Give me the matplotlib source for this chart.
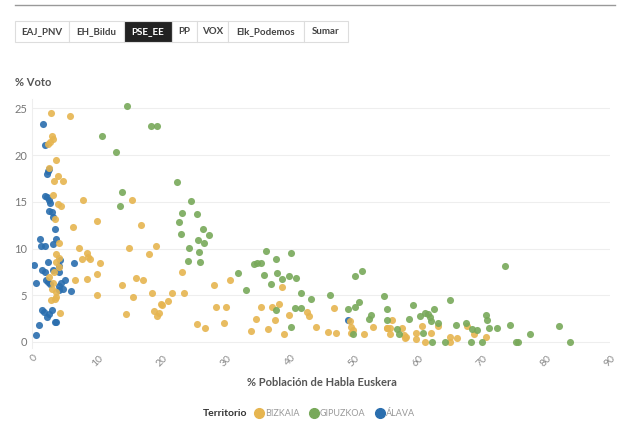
import matplotlib.pyplot as plt
from matplotlib.patches import Rectangle

plt.rcParams['font.family'] = ['Lato', 'DejaVu Sans']

# % poblacion de habla euskera (x) y % voto PSE_EE (y) por municipio
bizkaia_x = [2.6, 5.7, 2.9, 3.0, 2.5, 2.2, 3.4, 2.4, 3.8, 3.1, 4.5, 3.0, 3.7, 4.3, 3.3,
             7.6, 15.4, 6.05, 9.8, 16.8, 3.96, 7.1, 14.9, 19.0, 8.3, 3.5, 18.0, 7.45,
             8.5, 8.7, 3.96, 3.5, 3.96, 10.3, 9.8, 23.1, 2.4, 3.2, 6.4, 8.3, 15.9, 17.1,
             13.7, 2.8, 3.0, 3.4, 9.8, 15.5, 18.4, 21.5, 23.5, 21.0, 19.8, 18.75, 19.2,
             19.6, 20.05, 2.6, 3.3, 3.5, 14.4, 4.06, 25.4,
             28.1, 30.6, 28.4, 30.0, 26.7, 29.7, 33.9, 35.5, 34.7, 36.6, 37.2, 37.7,
             38.3, 38.8, 39.0, 39.9, 42.6, 43.0, 44.1, 46.0, 47.2, 46.9, 49.4, 49.6,
             49.8, 49.6, 51.5, 53.0, 55.2, 55.9, 55.7, 55.6, 57.8, 58.1, 55.1, 57.5,
             58.0, 59.7, 59.7, 60.6, 61.1, 62.1, 63.2, 65.0, 65.0, 66.1, 67.7, 68.75,
             70.6]
bizkaia_y = [24.5, 24.2, 22.0, 21.7, 21.4, 21.2, 19.5, 18.6, 17.75, 17.2, 17.2, 15.7,
             14.8, 14.5, 13.2, 15.15, 15.15, 12.3, 12.9, 12.5, 10.55, 10.1, 10.1, 10.3,
             9.55, 9.4, 9.4, 8.85, 9.05, 8.85, 8.95, 8.6, 8.05, 8.5, 7.25, 7.5, 7.0, 7.5,
             6.6, 6.7, 6.9, 6.6, 6.1, 5.7, 6.35, 5.3, 5.0, 4.8, 5.2, 5.2, 5.2, 4.4, 4.1,
             3.35, 2.8, 3.1, 3.95, 4.5, 4.65, 4.85, 3.0, 3.1, 1.9,
             6.1, 6.6, 3.7, 3.7, 1.55, 2.0, 1.2, 3.7, 2.5, 1.4, 3.7, 2.35, 4.1, 5.9,
             0.85, 2.9, 3.2, 2.8, 1.65, 1.1, 1.0, 3.6, 2.2, 1.65, 1.3, 1.0, 0.85, 1.65,
             1.55, 2.4, 1.55, 0.85, 0.75, 0.55, 1.45, 1.55, 0.4, 1.0, 0.3, 1.7, 0.0,
             1.0, 1.7, 0.5, 0.0, 0.4, 1.7, 0.9, 0.55]

gipuzkoa_x = [14.5, 10.7, 18.3, 19.3, 12.9, 22.4, 13.8, 13.5, 24.5, 25.4, 23.1, 22.7,
              23.0, 25.6, 24.2, 25.8, 24.0, 25.9, 26.4, 27.4, 26.5, 31.9, 33.2, 36.25,
              34.4, 34.9, 35.4, 37.8, 36.0, 37.9, 37.0, 38.7, 39.9, 40.9, 40.1, 41.7,
              43.3, 37.8, 40.8, 41.7, 40.2, 46.25, 50.2, 51.2, 49.0, 50.2, 50.8, 49.9,
              52.4, 52.7, 54.7, 55.2, 55.1, 56.8, 57.1, 58.6, 73.6, 65.0, 59.3, 60.3,
              61.1, 61.6, 61.9, 62.5, 62.1, 63.2, 60.8, 62.2, 64.2, 65.9, 67.5, 68.4,
              69.2, 70.7, 70.8, 71.1, 72.3, 74.4, 68.3, 70.0, 75.3, 75.6, 77.5, 82.0,
              83.75]
gipuzkoa_y = [25.3, 22.0, 23.1, 23.1, 20.35, 17.1, 16.1, 14.55, 15.1, 13.7, 13.75,
              12.8, 11.55, 10.9, 10.1, 9.65, 8.7, 8.6, 12.05, 11.5, 10.55, 7.4, 5.55,
              9.7, 8.35, 8.5, 8.5, 8.85, 7.2, 7.4, 6.2, 6.7, 7.1, 6.8, 9.55, 5.2, 4.6,
              3.4, 3.6, 3.6, 1.65, 5.0, 7.05, 7.6, 3.5, 3.7, 4.3, 0.9, 2.5, 2.9, 4.9,
              3.5, 2.3, 1.35, 0.85, 2.5, 8.1, 4.5, 3.95, 2.8, 3.1, 2.95, 2.65, 3.5, 2.2,
              2.0, 1.0, 0.0, 0.0, 1.8, 2.0, 1.35, 1.3, 2.9, 2.3, 1.55, 1.55, 1.8, 0.0,
              0.0, 0.0, 0.0, 0.9, 1.75, 0.0]

alava_x = [1.35, 1.7, 2.0, 2.2, 2.4, 1.7, 2.1, 2.4, 2.5, 2.4, 2.8, 3.0, 3.3, 0.94, 1.05,
           1.7, 3.0, 3.4, 0.05, 2.2, 1.2, 1.7, 3.0, 3.95, 4.06, 3.95, 6.25, 0.3, 1.9,
           2.2, 2.5, 3.95, 4.3, 4.8, 4.6, 3.95, 5.8, 1.2, 1.5, 2.0, 2.8, 2.4, 3.3, 3.5,
           0.8, 0.4, 49.0]
alava_y = [23.3, 21.1, 18.0, 18.3, 18.5, 15.6, 15.5, 15.2, 14.9, 14.0, 13.9, 13.4, 12.1,
           11.05, 10.3, 10.3, 10.5, 11.0, 8.2, 8.6, 7.7, 7.5, 7.7, 7.5, 8.8, 8.1, 8.4,
           6.35, 6.6, 6.4, 6.2, 6.0, 6.3, 6.6, 5.7, 5.6, 5.5, 3.4, 3.2, 2.7, 3.4, 3.0,
           2.1, 2.1, 1.8, 0.8, 2.35]

partidos = ['EAJ_PNV', 'EH_Bildu', 'PSE_EE', 'PP', 'VOX', 'Elk_Podemos', 'Sumar']
seleccionado = 'PSE_EE'

c_biz = '#e6b550'
c_gip = '#78a95a'
c_ala = '#2a6eae'

fig = plt.figure(figsize=(6.19, 4.3), dpi=100)
W, H = 619, 430

# linea superior
fig.add_artist(plt.Line2D([15 / W, 615 / W], [1 - 5 / H, 1 - 5 / H], color='#999999', lw=1))

# botones de partidos
bx = [15, 69, 124, 172, 197, 228, 304, 348]
for i, p in enumerate(partidos):
    x0, x1 = bx[i], bx[i + 1]
    sel = p == seleccionado
    fig.add_artist(Rectangle((x0 / W, 1 - 42 / H), (x1 - x0) / W, 21 / H,
                             facecolor='#222222' if sel else 'white',
                             edgecolor='#dddddd', lw=0.8))
    fig.text((x0 + x1) / 2 / W, 1 - 31.5 / H, p, ha='center', va='center',
             fontsize=7, fontweight='bold', color='white' if sel else '#444444')

ax = fig.add_axes([32 / W, 1 - 347.6 / H, 578 / W, 248.6 / H])
ax.scatter(alava_x, alava_y, s=26, color=c_ala, alpha=0.9, lw=0, zorder=3)
ax.scatter(bizkaia_x, bizkaia_y, s=26, color=c_biz, alpha=0.9, lw=0, zorder=3)
ax.scatter(gipuzkoa_x, gipuzkoa_y, s=26, color=c_gip, alpha=0.9, lw=0, zorder=3)

ax.set_xlim(-0.3, 90)
ax.set_ylim(-0.6, 26)
ax.set_xticks(range(0, 91, 10))
ax.set_yticks(range(0, 26, 5))
ax.tick_params(axis='both', length=0, labelsize=8, labelcolor='#777777')
ax.tick_params(axis='x', pad=4, labelrotation=45, labelsize=7.5, labelcolor='#888888')
for lab in ax.get_xticklabels():
    lab.set_ha('center')
ax.grid(axis='y', color='#eeeeee', lw=0.8)
ax.set_axisbelow(True)
for s in ['top', 'right', 'bottom']:
    ax.spines[s].set_visible(False)
ax.spines['left'].set_color('#eeeeee')

fig.text(15 / W, 1 - 82 / H, '% Voto', fontsize=8, fontweight='bold', color='#555555', va='center')
fig.text(322 / W, 1 - 382 / H, '% Población de Habla Euskera', fontsize=8, fontweight='bold',
         color='#555555', ha='center', va='center')

# leyenda
ly = 1 - 413 / H
fig.text(203 / W, ly, 'Territorio', fontsize=7.5, fontweight='bold', color='#333333', va='center')
items = [('BIZKAIA', c_biz, 259), ('GIPUZKOA', c_gip, 314), ('ÁLAVA', c_ala, 380)]
for name, col, px in items:
    fig.add_artist(plt.Line2D([px / W], [ly], marker='o', markersize=7, color=col, lw=0))
    fig.text((px + 6) / W, ly, name, fontsize=6.5, color='#999999', va='center')

fig.savefig('out.png', dpi=100)
